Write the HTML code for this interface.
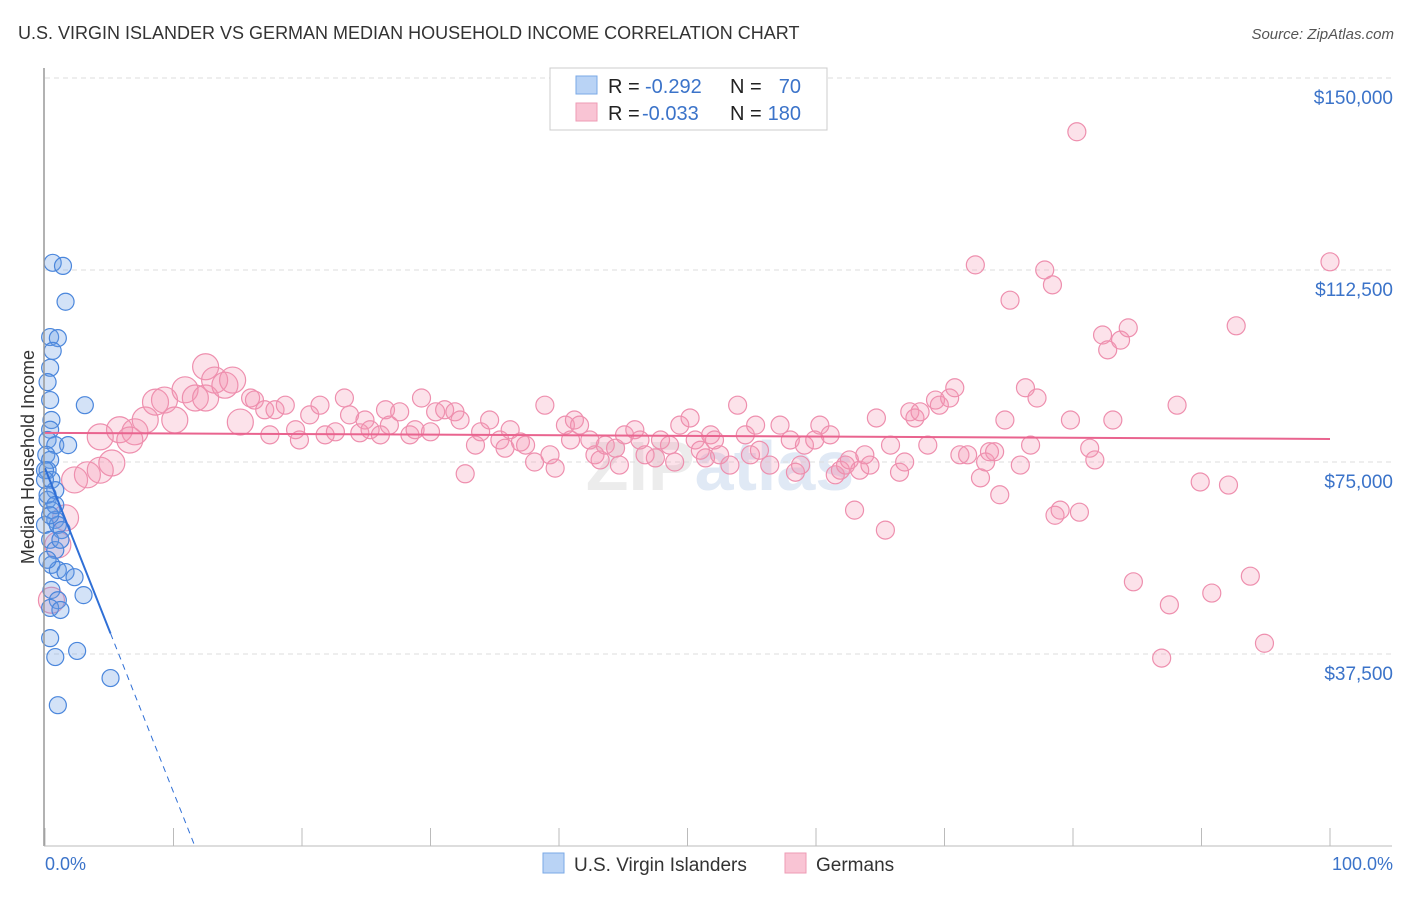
<!DOCTYPE html>
<html><head><meta charset="utf-8">
<style>
body{margin:0;background:#fff;font-family:"Liberation Sans",sans-serif;}
svg text{font-family:"Liberation Sans",sans-serif;}
</style></head>
<body>
<svg id="chart" width="1406" height="892" xmlns="http://www.w3.org/2000/svg">
<text x="18" y="39" font-size="18" fill="#333">U.S. VIRGIN ISLANDER VS GERMAN MEDIAN HOUSEHOLD INCOME CORRELATION CHART</text>
<text x="1394" y="39" font-size="15" fill="#555" text-anchor="end" font-style="italic">Source: ZipAtlas.com</text>
<text transform="translate(34,457) rotate(-90)" font-size="18" fill="#333" text-anchor="middle">Median Household Income</text>
<text x="720" y="490" font-size="70" fill="#ececec" text-anchor="middle" font-weight="bold">ZIP<tspan fill="#e0e9f5">atlas</tspan></text>
<g id="grid"></g><g id="pts"></g><g id="lines"></g>
<line x1="44" y1="68" x2="44" y2="846" stroke="#999" stroke-width="1.5"/>
<line x1="44" y1="846" x2="1392" y2="846" stroke="#bbb"/>
<text x="45" y="870" font-size="18" fill="#3b73c9">0.0%</text>
<text x="1393" y="870" font-size="18" fill="#3b73c9" text-anchor="end">100.0%</text>
<g>
<rect x="550" y="68" width="277" height="62" fill="#fff" stroke="#ccc"/>
<rect x="576" y="76" width="21" height="18" fill="#b9d3f5" stroke="#7aa8e6"/>
<rect x="576" y="103" width="21" height="18" fill="#f9c4d4" stroke="#ee9bb5"/>
<text x="608" y="93" font-size="20" fill="#222">R =</text>
<text x="645" y="93" font-size="20" fill="#3b73c9">-0.292</text>
<text x="730" y="93" font-size="20" fill="#222">N =</text>
<text x="801" y="93" font-size="20" fill="#3b73c9" text-anchor="end">70</text>
<text x="608" y="120" font-size="20" fill="#222">R =</text>
<text x="642" y="120" font-size="20" fill="#3b73c9">-0.033</text>
<text x="730" y="120" font-size="20" fill="#222">N =</text>
<text x="801" y="120" font-size="20" fill="#3b73c9" text-anchor="end">180</text>
</g>
<g>
<rect x="543" y="853" width="21" height="20" fill="#b9d3f5" stroke="#7aa8e6"/>
<text x="574" y="871" font-size="19" fill="#333">U.S. Virgin Islanders</text>
<rect x="785" y="853" width="21" height="20" fill="#f9c4d4" stroke="#ee9bb5"/>
<text x="816" y="871" font-size="19" fill="#333">Germans</text>
</g>
</svg>
<script>
const yTicks=[37500,75000,112500,150000];
const yTickLabels=["$37,500","$75,000","$112,500","$150,000"];
const xTicks=[0,10,20,30,40,50,60,70,80,90,100];
const blueX=[0.6,1.4,1.6,0.4,1.0,0.6,0.4,0.2,0.4,0.5,3.1,0.4,0.2,0.8,1.8,0.1,0.4,0.2,0.5,0.8,0.2,0.5,0.8,0,1.0,1.3,0.4,0.8,0.5,1.0,1.6,2.3,0.5,1.0,3.0,0.4,1.2,0.4,0.8,2.5,5.1,1.0,0,0,0.2,0.8,0.4,1.2,0.2];
const blueY=[113.9,113.3,106.3,99.4,99.2,96.7,93.4,90.6,87.1,83.2,86.1,81.3,79.3,78.3,78.3,76.4,75.4,73.4,71.5,69.5,67.6,65.6,63.7,62.7,62.7,61.7,59.8,57.8,54.9,53.9,53.5,52.5,50.0,48.0,49.0,46.5,46.1,40.6,36.9,38.1,32.8,27.5,73.4,71.5,68.6,66.6,64.6,59.8,55.9];
const pinkX=[1.6,2.3,3.3,4.3,5.2,4.3,5.8,7.0,6.6,7.8,8.6,9.3,10.1,10.9,11.7,12.5,12.5,13.2,14.0,14.6,15.2,16.0,16.3,17.1,17.9,17.5,18.7,19.5,19.8,20.6,21.4,21.8,22.6,23.3,23.7,24.5,24.9,25.3,26.1,26.5,26.8,27.6,28.4,28.8,29.3,30.0,30.4,31.1,31.9,32.3,32.7,33.5,33.9,34.6,35.4,35.8,36.2,37.0,37.4,38.1,38.9,39.3,39.7,40.5,40.9,41.2,41.6,42.4,42.8,43.2,43.6,44.4,44.7,45.1,45.9,46.3,46.7,47.5,47.9,48.6,49.0,49.4,50.2,50.6,51.0,51.4,51.8,52.1,52.5,53.3,53.9,54.5,54.9,55.3,55.6,56.4,57.2,58.0,58.4,58.8,59.1,59.9,60.3,61.1,61.5,61.9,62.3,62.6,63.0,63.4,63.8,64.2,64.7,65.4,65.8,66.5,66.9,67.3,67.7,68.1,68.7,69.3,69.6,70.4,70.8,71.2,71.8,72.4,72.8,73.2,73.5,73.9,74.3,74.7,75.1,75.9,76.3,76.7,77.2,77.8,78.4,78.6,79.0,79.8,80.3,80.5,81.3,81.7,82.3,82.7,83.1,83.7,84.3,84.7,87.5,86.9,88.1,89.9,90.8,92.1,92.7,93.8,94.9,100,1.0,0.5];
const pinkY=[64.1,71.5,72.5,73.4,74.8,79.9,81.3,80.9,79.3,83.2,86.7,87.1,83.2,89.1,87.5,87.5,93.6,91.0,90.0,91.0,82.8,87.5,87.1,85.2,85.2,80.3,86.1,81.3,79.3,84.2,86.1,80.3,80.9,87.5,84.2,80.7,83.2,81.3,80.3,85.2,82.2,84.8,80.3,81.3,87.5,80.9,84.8,85.2,84.8,83.2,72.7,78.3,80.9,83.2,79.3,77.7,81.3,78.9,78.3,75.0,86.1,76.4,73.8,82.2,79.3,83.2,82.2,79.3,76.4,75.4,78.3,77.7,74.4,80.3,81.3,79.3,76.4,75.8,79.3,78.3,75.0,82.2,83.6,79.3,77.3,75.8,80.3,79.3,76.4,74.4,86.1,80.3,76.4,82.2,77.3,74.4,82.2,79.3,73.0,74.4,78.3,79.3,82.2,80.3,72.5,73.4,74.4,75.4,65.6,73.4,76.4,74.4,83.6,61.7,78.3,73.0,75.0,84.8,83.6,84.8,78.3,87.1,86.1,87.5,89.5,76.4,76.4,113.5,71.9,75.0,77.0,77.0,68.6,83.2,106.6,74.4,89.5,78.3,87.5,112.5,109.6,64.6,65.6,83.2,139.5,65.2,77.7,75.4,99.8,96.9,83.2,98.8,101.2,51.6,47.1,36.7,86.1,71.1,49.4,70.5,101.6,52.7,39.6,114.1,58.8,48.0];
const blueTrend=[73.8,-6.33];
const pinkTrend=[80.7,79.5];

const X0=45,X1=1330,YB=846,PXPERK=192/37.5;
const sx=p=>X0+p*(X1-X0)/100;
function yv(k){return YB-k*PXPERK;}
const NS="http://www.w3.org/2000/svg";
function mk(tag,attrs,parent){const e=document.createElementNS(NS,tag);for(const k in attrs)e.setAttribute(k,attrs[k]);parent.appendChild(e);return e;}
const grid=document.getElementById('grid');
yTicks.forEach((t,i)=>{
  const y=yv(t/1000);
  const l=mk('line',{x1:45,x2:1392,y1:y,y2:y,stroke:'#ddd','stroke-dasharray':'5,4'},grid);
  
  
  const tx=mk('text',{x:1393,y:y+26,'font-size':19,fill:'#3b73c9','text-anchor':'end'},grid);
  tx.textContent=yTickLabels[i];
  
  
});
xTicks.forEach(t=>{
  const x=sx(t);
  const l=mk('line',{x1:x,x2:x,y1:828,y2:846,stroke:'#bbb'},grid);
  
  
});
const pts=document.getElementById('pts');
pinkX.forEach((p,i)=>{
  const c=mk('circle',{cx:sx(p),cy:yv(pinkY[i]),r:p<16?13:9,fill:'rgba(244,150,180,0.28)',stroke:'#ee8fae','stroke-width':1.2},pts);
  
  
});
blueX.forEach((p,i)=>{
  const c=mk('circle',{cx:sx(p),cy:yv(blueY[i]),r:8.5,fill:'rgba(110,160,230,0.3)',stroke:'#4a86dc','stroke-width':1.2},pts);
  
  
});
const lines=document.getElementById('lines');
const bEnd=5.1, bZero=-blueTrend[0]/blueTrend[1];
let l1=mk('line',{x1:sx(0),y1:yv(blueTrend[0]),x2:sx(bEnd),y2:yv(blueTrend[0]+blueTrend[1]*bEnd),stroke:'#2f6fd6','stroke-width':2},lines);


let l2=mk('line',{x1:sx(bEnd),y1:yv(blueTrend[0]+blueTrend[1]*bEnd),x2:sx(bZero),y2:yv(0),stroke:'#2f6fd6','stroke-width':1,'stroke-dasharray':'6,5'},lines);


let l3=mk('line',{x1:sx(0),y1:yv(pinkTrend[0]),x2:sx(100),y2:yv(pinkTrend[1]),stroke:'#e9648f','stroke-width':2},lines);


</script>
</body></html>
